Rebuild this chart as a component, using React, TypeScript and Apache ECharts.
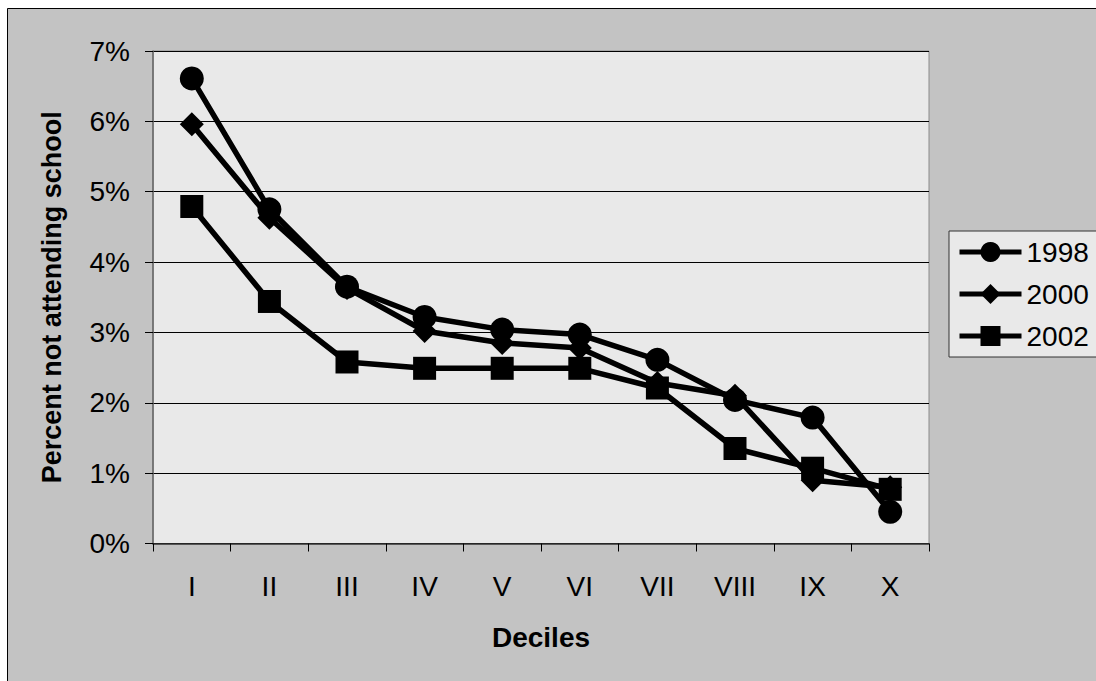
import React, { useEffect, useRef } from "react";
import * as echarts from "echarts";

const categories = ["I", "II", "III", "IV", "V", "VI", "VII", "VIII", "IX", "X"];
const s1998 = [6.61, 4.75, 3.65, 3.22, 3.04, 2.97, 2.61, 2.04, 1.79, 0.45];
const s2000 = [5.96, 4.63, 3.63, 3.02, 2.85, 2.78, 2.28, 2.1, 0.9, 0.8];
const s2002 = [4.79, 3.44, 2.58, 2.49, 2.49, 2.49, 2.21, 1.35, 1.07, 0.77];
const yTicks = [0, 1, 2, 3, 4, 5, 6, 7];

const FONT = "Liberation Sans, Arial, sans-serif";

export default function App() {
  const ref = useRef<HTMLDivElement>(null);
  useEffect(() => {
    if (!ref.current) return;
    const chart = echarts.init(ref.current, null, { renderer: "svg" });
    const mkSeries = (name: string, data: number[], symbol: string, size: number) => ({
      name,
      type: "line",
      data,
      symbol,
      symbolSize: size,
      lineStyle: { color: "#000", width: 5.5 },
      itemStyle: { color: "#000" },
      emphasis: { disabled: true },
    });
    chart.setOption({
      animation: false,
      backgroundColor: "#fff",
      textStyle: { fontFamily: FONT },
      graphic: [
        {
          type: "rect",
          shape: { x: 7.5, y: 8.5, width: 1100, height: 700 },
          style: { fill: "#c3c3c3", stroke: "#000", lineWidth: 1 },
          z: -10,
          silent: true,
        },
      ],
      grid: {
        left: 153,
        top: 51,
        right: 167,
        bottom: 137.5,
        show: true,
        backgroundColor: "#e9e9e9",
        borderColor: "#8a8a8a",
        borderWidth: 1,
      },
      legend: {
        orient: "vertical",
        left: 949,
        top: 231,
        backgroundColor: "#e9e9e9",
        borderColor: "#333",
        borderWidth: 1,
        padding: [7, 20, 7, 8],
        itemWidth: 62,
        itemHeight: 25,
        itemGap: 14,
        lineStyle: { width: 5, color: "#000" },
        textStyle: { fontSize: 28, fontFamily: FONT, color: "#000" },
        data: ["1998", "2000", "2002"],
      },
      xAxis: {
        type: "category",
        data: categories,
        name: "Deciles",
        nameLocation: "middle",
        nameGap: 80,
        nameTextStyle: { fontSize: 28, fontWeight: "bold", color: "#000", fontFamily: FONT },
        axisLine: { lineStyle: { color: "#333", width: 1.5 } },
        axisTick: { show: true, length: 8, lineStyle: { color: "#000" } },
        axisLabel: { fontSize: 28, color: "#000", margin: 29, fontFamily: FONT },
      },
      yAxis: {
        type: "value",
        min: yTicks[0],
        max: yTicks[yTicks.length - 1],
        interval: 1,
        name: "Percent not attending school",
        nameLocation: "middle",
        nameGap: 88,
        nameTextStyle: { fontSize: 27, fontWeight: "bold", color: "#000", fontFamily: FONT },
        axisLine: { show: true, lineStyle: { color: "#666", width: 1.5 } },
        axisTick: { show: true, length: 8, lineStyle: { color: "#000" } },
        axisLabel: { fontSize: 28, color: "#000", margin: 23, formatter: "{value}%", fontFamily: FONT },
        splitLine: { show: true, lineStyle: { color: "#000", width: 1 } },
      },
      series: [
        mkSeries("1998", s1998, "circle", 24),
        mkSeries("2000", s2000, "diamond", 24),
        mkSeries("2002", s2002, "rect", 23),
      ],
    });
    return () => chart.dispose();
  }, []);
  return (
    <div
      ref={ref}
      style={{ position: "absolute", left: 0, top: 0, width: 1096, height: 681 }}
    />
  );
}
